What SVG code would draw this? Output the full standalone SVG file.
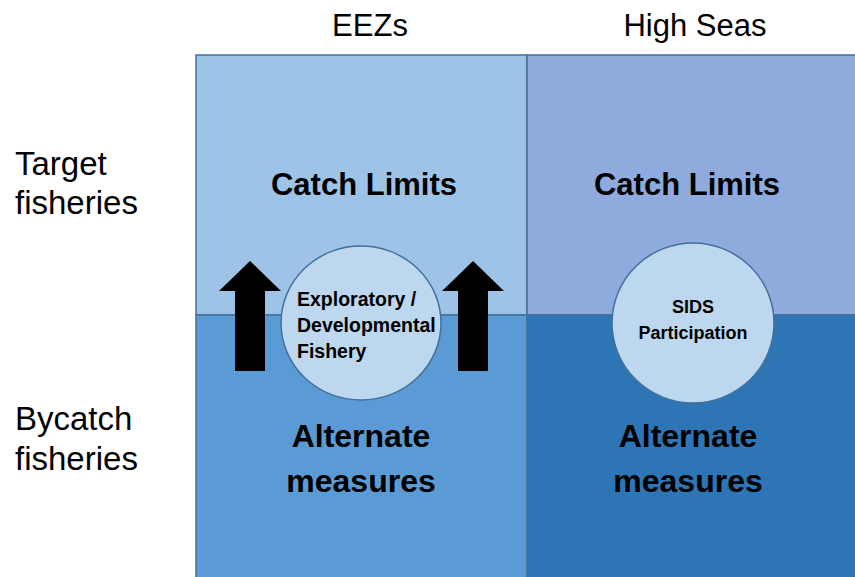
<svg xmlns="http://www.w3.org/2000/svg" width="855" height="577" viewBox="0 0 855 577">
<style>
.cell{stroke:#41719C;stroke-width:1.5}
.hdr{font-family:"Liberation Sans",Arial,sans-serif;font-size:31px;fill:#000}
.lbl{font-family:"Liberation Sans",Arial,sans-serif;font-size:33px;fill:#000}
.big{font-family:"Liberation Sans",Arial,sans-serif;font-size:31px;font-weight:bold;fill:#000;text-anchor:middle}
.alt{font-size:32px}
.sm{font-family:"Liberation Sans",Arial,sans-serif;font-size:18px;font-weight:bold;fill:#000}
.sm2{font-size:19.5px}
.circ{fill:#BDD7EE;stroke:#41719C;stroke-width:1.5}
.arrow{fill:#000}
</style>
<rect width="855" height="577" fill="#fff"/>
<g id="grid">
<rect class="cell" x="196" y="55" width="331" height="260" fill="#9DC3E6"/>
<rect class="cell" x="527" y="55" width="330" height="260" fill="#8FAADC"/>
<rect class="cell" x="196" y="315" width="331" height="264" fill="#5B9BD5"/>
<rect class="cell" x="527" y="315" width="330" height="264" fill="#2E75B6"/>
</g>
<g id="headers">
<text class="hdr" x="370" y="36" text-anchor="middle">EEZs</text>
<text class="hdr" x="695" y="36" text-anchor="middle">High Seas</text>
<text class="lbl" x="15" y="175">Target</text>
<text class="lbl" x="15" y="214">fisheries</text>
<text class="lbl" x="15" y="430">Bycatch</text>
<text class="lbl" x="15" y="470">fisheries</text>
</g>
<g id="eez-target"><text class="big" x="364" y="195">Catch Limits</text></g>
<g id="hs-target"><text class="big" x="687" y="195">Catch Limits</text></g>
<g id="eez-bycatch"><text class="big alt" x="361" y="447">Alternate</text><text class="big alt" x="361" y="492">measures</text></g>
<g id="hs-bycatch"><text class="big alt" x="688" y="447">Alternate</text><text class="big alt" x="688" y="492">measures</text></g>
<g id="connectors">
<polygon class="arrow" points="250,261 281,291 265,291 265,371 235,371 235,291 219,291"/>
<polygon class="arrow" points="473,261 504,291 488,291 488,371 458,371 458,291 442,291"/>
</g>
<g id="exploratory">
<ellipse class="circ" cx="361" cy="323" rx="80" ry="77"/>
<text class="sm sm2" x="297" y="306">Exploratory /</text>
<text class="sm sm2" x="297" y="332">Developmental</text>
<text class="sm sm2" x="297" y="358">Fishery</text>
</g>
<g id="sids">
<ellipse class="circ" cx="693" cy="323" rx="81" ry="80"/>
<text class="sm" x="693" y="313" text-anchor="middle">SIDS</text>
<text class="sm" x="693" y="339" text-anchor="middle">Participation</text>
</g>
</svg>
